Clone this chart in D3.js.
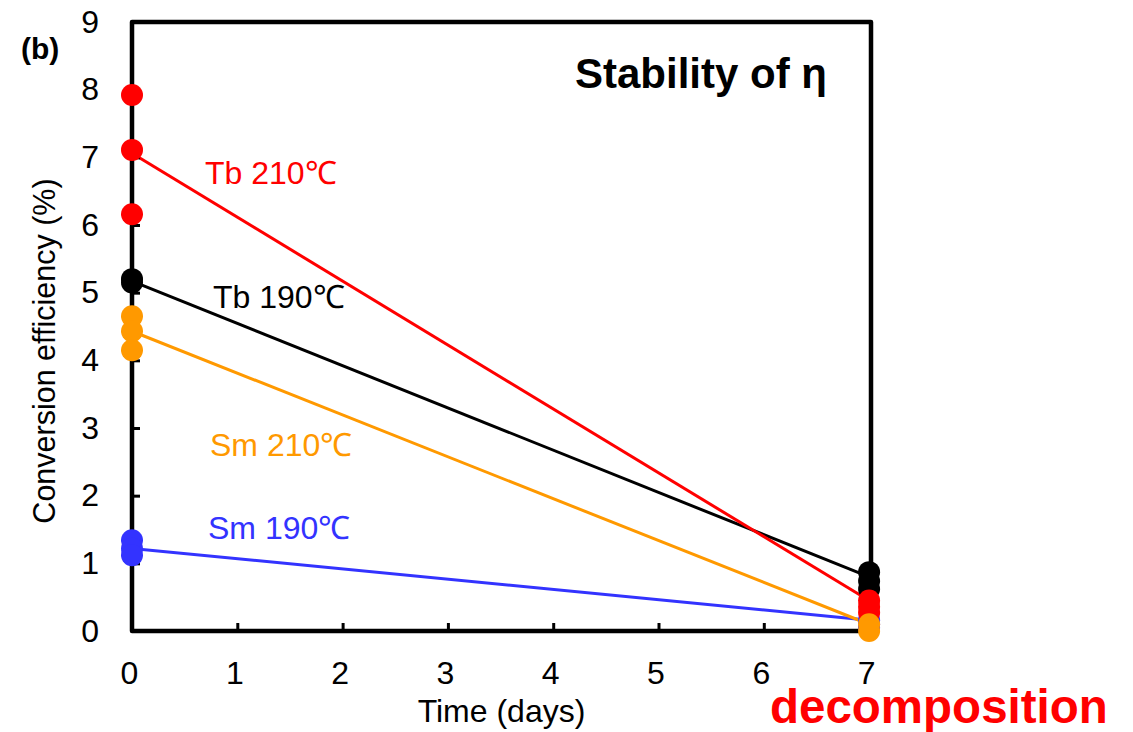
<!DOCTYPE html>
<html>
<head>
<meta charset="utf-8">
<script src="https://cdn.jsdelivr.net/npm/d3@7"></script>
<style>
  body { margin: 0; background: #fff; }
  text { font-family: "Liberation Sans", Arial, sans-serif; }
</style>
</head>
<body>
<script>
const width = 1133
const height = 732
const margin = ({top: 22, right: 262, bottom: 101, left: 132});

const days = [0, 7]
const xTicks = [0, 1, 2, 3, 4, 5, 6, 7]
const yTicks = [0, 1, 2, 3, 4, 5, 6, 7, 8, 9]

// measured points, day 0 and day 7
const tb210Day0 = [7.92, 7.11, 6.16]
const tb210Day7 = [0.45, 0.36, 0.27]
const tb190Day0 = [5.2, 5.15]
const tb190Day7 = [0.87, 0.74, 0.62]
const sm210Day0 = [4.65, 4.43, 4.15]
const sm210Day7 = [0.1, 0.0]
const sm190Day0 = [1.34, 1.22, 1.12]
const sm190Day7 = [0.16, 0.1, 0.05]

// average lines (day 0 -> day 7)
const tb210Line = [7.06, 0.45]
const tb190Line = [5.17, 0.8]
const sm210Line = [4.43, 0.1]
const sm190Line = [1.22, 0.16]

const series = [
  {name: "Tb 190℃", color: "#000000", d0: tb190Day0, d7: tb190Day7, line: tb190Line, lx: 213, ly: 308},
  {name: "Sm 190℃", color: "#3333ff", d0: sm190Day0, d7: sm190Day7, line: sm190Line, lx: 208, ly: 539},
  {name: "Tb 210℃", color: "#ff0000", d0: tb210Day0, d7: tb210Day7, line: tb210Line, lx: 205, ly: 184},
  {name: "Sm 210℃", color: "#ff9900", d0: sm210Day0, d7: sm210Day7, line: sm210Line, lx: 210, ly: 456}
]

const x = d3.scaleLinear()
    .domain([0, 7])
    .range([margin.left, margin.left + 7 * 105.3])

const y = d3.scaleLinear()
    .domain([0, 9])
    .range([height - margin.bottom, margin.top])

const svg = d3.select("body").append("svg")
    .attr("width", width)
    .attr("height", height)

const x0 = margin.left, x1 = width - margin.right
const y0 = height - margin.bottom, y1 = margin.top

// lines
svg.append("g")
  .selectAll("line")
  .data(series)
  .join("line")
    .attr("x1", d => x(days[0]))
    .attr("x2", d => x(days[1]))
    .attr("y1", d => y(d.line[0]))
    .attr("y2", d => y(d.line[1]))
    .attr("stroke", d => d.color)
    .attr("stroke-width", 3)

// axes
const xAxis = g => g
    .attr("transform", `translate(0,${y0})`)
    .call(d3.axisBottom(x).tickValues(xTicks).tickFormat(d3.format("d")).tickSizeInner(-8).tickSizeOuter(0).tickPadding(30))
    .call(g => g.select(".domain").remove())
    .call(g => g.selectAll(".tick line").attr("stroke-width", 3))
    .call(g => g.selectAll(".tick text").attr("font-size", 32).attr("dx", -3))

const yAxis = g => g
    .attr("transform", `translate(${x0},0)`)
    .call(d3.axisLeft(y).tickValues(yTicks).tickFormat(d3.format("d")).tickSizeInner(-8).tickSizeOuter(0).tickPadding(33))
    .call(g => g.select(".domain").remove())
    .call(g => g.selectAll(".tick line").attr("stroke-width", 3))
    .call(g => g.selectAll(".tick text").attr("font-size", 32))

svg.append("g").call(xAxis)
svg.append("g").call(yAxis)

// frame
svg.append("path")
    .attr("d", `M${x0},${y1}H${x1}V${y0}H${x0}Z`)
    .attr("fill", "none")
    .attr("stroke", "#000")
    .attr("stroke-width", 4.5)
    .attr("stroke-linejoin", "round")

// points
const pts = series.flatMap(s => [
  ...s.d0.map(v => ({day: days[0], v, color: s.color})),
  ...s.d7.map(v => ({day: days[1], v, color: s.color}))
])

svg.append("g")
  .selectAll("circle")
  .data(pts)
  .join("circle")
    .attr("cx", d => x(d.day))
    .attr("cy", d => y(d.v))
    .attr("r", 11)
    .attr("fill", d => d.color)

// series labels
svg.append("g")
  .selectAll("text")
  .data(series)
  .join("text")
    .attr("x", d => d.lx)
    .attr("y", d => d.ly)
    .attr("font-size", 32)
    .attr("fill", d => d.color)
    .text(d => d.name)

svg.append("text")
    .attr("x", 575)
    .attr("y", 88)
    .attr("font-size", 42)
    .attr("font-weight", "bold")
    .text("Stability of η")

svg.append("text")
    .attr("x", 21)
    .attr("y", 59)
    .attr("font-size", 30)
    .attr("font-weight", "bold")
    .text("(b)")

svg.append("text")
    .attr("x", (x0 + x1) / 2)
    .attr("y", 722)
    .attr("text-anchor", "middle")
    .attr("font-size", 32)
    .text("Time (days)")

svg.append("text")
    .attr("transform", `translate(55,351) rotate(-90)`)
    .attr("text-anchor", "middle")
    .attr("font-size", 30.5)
    .text("Conversion efficiency (%)")

svg.append("text")
    .attr("x", 770)
    .attr("y", 723)
    .attr("font-size", 47.5)
    .attr("font-weight", "bold")
    .attr("fill", "#ff0000")
    .text("decomposition")
</script>
</body>
</html>
